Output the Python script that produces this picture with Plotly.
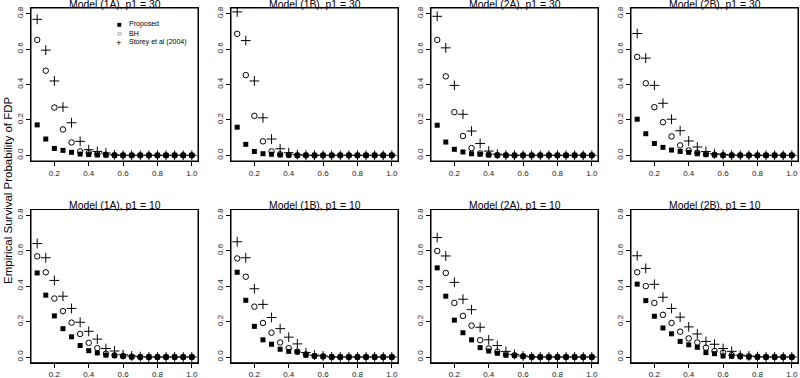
import plotly.graph_objects as go

# ---------------- data ----------------
alpha = [0.10, 0.15, 0.20, 0.25, 0.30, 0.35, 0.40, 0.45, 0.50, 0.55,
         0.60, 0.65, 0.70, 0.75, 0.80, 0.85, 0.90, 0.95, 1.00]

titles = ["Model (1A), p1 = 30", "Model (1B), p1 = 30", "Model (2A), p1 = 30", "Model (2B), p1 = 30",
          "Model (1A), p1 = 10", "Model (1B), p1 = 10", "Model (2A), p1 = 10", "Model (2B), p1 = 10"]

series_names = ["Proposed", "BH", "Storey et al (2004)"]

prop_1A_30 = [0.172, 0.092, 0.039, 0.028, 0.017, 0.007, 0.004, 0.002, 0.001, 0, 0, 0, 0, 0, 0, 0, 0, 0, 0]
bh_1A_30 = [0.652, 0.478, 0.270, 0.146, 0.073, 0.022, 0.013, 0.007, 0.004, 0.001, 0, 0, 0, 0, 0, 0, 0, 0, 0]
st_1A_30 = [0.768, 0.594, 0.420, 0.272, 0.184, 0.079, 0.032, 0.022, 0.013, 0.003, 0, 0, 0, 0, 0, 0, 0, 0, 0]

prop_1B_30 = [0.159, 0.062, 0.022, 0.009, 0.006, 0.002, 0.001, 0, 0, 0, 0, 0, 0, 0, 0, 0, 0, 0, 0]
bh_1B_30 = [0.686, 0.453, 0.223, 0.079, 0.022, 0.006, 0.002, 0, 0, 0, 0, 0, 0, 0, 0, 0, 0, 0, 0]
st_1B_30 = [0.810, 0.648, 0.420, 0.212, 0.092, 0.037, 0.015, 0.004, 0.001, 0, 0, 0, 0, 0, 0, 0, 0, 0, 0]

prop_2A_30 = [0.170, 0.075, 0.034, 0.019, 0.009, 0.006, 0.002, 0.001, 0, 0, 0, 0, 0, 0, 0, 0, 0, 0, 0]
bh_2A_30 = [0.652, 0.446, 0.244, 0.109, 0.041, 0.011, 0.004, 0.001, 0, 0, 0, 0, 0, 0, 0, 0, 0, 0, 0]
st_2A_30 = [0.785, 0.607, 0.395, 0.232, 0.137, 0.067, 0.024, 0.007, 0.002, 0, 0, 0, 0, 0, 0, 0, 0, 0, 0]

prop_2B_30 = [0.204, 0.122, 0.067, 0.045, 0.030, 0.022, 0.017, 0.009, 0.004, 0.002, 0, 0, 0, 0, 0, 0, 0, 0, 0]
bh_2B_30 = [0.556, 0.407, 0.272, 0.187, 0.107, 0.056, 0.028, 0.015, 0.007, 0.004, 0.001, 0, 0, 0, 0, 0, 0, 0, 0]
st_2B_30 = [0.688, 0.549, 0.395, 0.294, 0.204, 0.139, 0.081, 0.047, 0.022, 0.009, 0.004, 0.001, 0, 0, 0, 0, 0, 0, 0]

prop_1A_10 = [0.474, 0.349, 0.232, 0.160, 0.114, 0.065, 0.036, 0.023, 0.010, 0.008, 0.004, 0.001, 0, 0, 0, 0, 0, 0, 0]
bh_1A_10 = [0.568, 0.478, 0.330, 0.259, 0.194, 0.130, 0.080, 0.050, 0.019, 0.010, 0.006, 0.002, 0, 0, 0, 0, 0, 0, 0]
st_1A_10 = [0.640, 0.560, 0.432, 0.343, 0.274, 0.196, 0.145, 0.101, 0.048, 0.034, 0.013, 0.006, 0.002, 0, 0, 0, 0, 0, 0]

prop_1B_10 = [0.478, 0.320, 0.173, 0.097, 0.072, 0.044, 0.032, 0.029, 0.010, 0.006, 0.004, 0.001, 0, 0, 0, 0, 0, 0, 0]
bh_1B_10 = [0.556, 0.453, 0.284, 0.192, 0.137, 0.082, 0.050, 0.030, 0.015, 0.006, 0.003, 0, 0, 0, 0, 0, 0, 0, 0]
st_1B_10 = [0.650, 0.560, 0.385, 0.297, 0.223, 0.160, 0.112, 0.074, 0.025, 0.011, 0.006, 0.001, 0, 0, 0, 0, 0, 0, 0]

prop_2A_10 = [0.503, 0.343, 0.208, 0.137, 0.097, 0.053, 0.034, 0.021, 0.010, 0.008, 0.004, 0, 0, 0, 0, 0, 0, 0, 0]
bh_2A_10 = [0.598, 0.474, 0.305, 0.232, 0.177, 0.095, 0.048, 0.030, 0.015, 0.010, 0.004, 0.001, 0, 0, 0, 0, 0, 0, 0]
st_2A_10 = [0.674, 0.570, 0.421, 0.326, 0.267, 0.168, 0.097, 0.065, 0.032, 0.015, 0.006, 0.001, 0, 0, 0, 0, 0, 0, 0]

prop_2B_10 = [0.411, 0.318, 0.230, 0.164, 0.131, 0.088, 0.069, 0.055, 0.025, 0.019, 0.006, 0.004, 0.002, 0, 0, 0, 0, 0, 0]
bh_2B_10 = [0.478, 0.400, 0.305, 0.238, 0.192, 0.143, 0.105, 0.082, 0.053, 0.034, 0.025, 0.011, 0.006, 0.004, 0.001, 0, 0, 0, 0]
st_2B_10 = [0.571, 0.500, 0.410, 0.337, 0.274, 0.225, 0.170, 0.130, 0.088, 0.072, 0.048, 0.032, 0.010, 0.006, 0.002, 0, 0, 0, 0]

panels = [
    (prop_1A_30, bh_1A_30, st_1A_30), (prop_1B_30, bh_1B_30, st_1B_30),
    (prop_2A_30, bh_2A_30, st_2A_30), (prop_2B_30, bh_2B_30, st_2B_30),
    (prop_1A_10, bh_1A_10, st_1A_10), (prop_1B_10, bh_1B_10, st_1B_10),
    (prop_2A_10, bh_2A_10, st_2A_10), (prop_2B_10, bh_2B_10, st_2B_10),
]

# ---------------- layout ----------------
W, H = 800, 378
FONT = "Liberation Sans, Arial, Helvetica, sans-serif"

fig = go.Figure()

marker_styles = [
    dict(symbol="square", size=5, color="black", line=dict(width=0)),
    dict(symbol="circle-open", size=5.5, color="black", line=dict(width=1, color="black")),
    dict(symbol="cross-thin-open", size=7, color="black", line=dict(width=1, color="black")),
]

row_px = [(8, 161), (209.5, 362.7)]  # top, bottom in pixels

for i, (vals, title) in enumerate(zip(panels, titles)):
    r, c = divmod(i, 4)
    k = i + 1
    xa = "x" if k == 1 else f"x{k}"
    ya = "y" if k == 1 else f"y{k}"
    for s, (v, ms) in enumerate(zip(vals, marker_styles)):
        fig.add_trace(go.Scatter(x=alpha, y=v, mode="markers", marker=ms,
                                 name=series_names[s], showlegend=False,
                                 xaxis=xa, yaxis=ya, cliponaxis=False,
                                 hoverinfo="skip"))
    x0 = (200 * c + 31) / W
    x1 = (200 * c + 198) / W
    top, bot = row_px[r]
    y0 = (H - bot) / H
    y1 = (H - top) / H
    axcommon = dict(showgrid=False, zeroline=False, showline=True, mirror=True,
                    linecolor="black", linewidth=1, ticks="outside", ticklen=4,
                    tickwidth=1, tickcolor="black", automargin=False,
                    tickfont=dict(family=FONT, size=8, color="#222"),
                    tickformat=".1f")
    fig.layout[("xaxis" if k == 1 else f"xaxis{k}")] = dict(
        domain=[x0, x1], range=[0.064, 1.036], anchor=ya,
        tickvals=[0.2, 0.4, 0.6, 0.8, 1.0], **axcommon)
    fig.layout[("yaxis" if k == 1 else f"yaxis{k}")] = dict(
        domain=[y0, y1], range=[-0.032, 0.832], anchor=xa,
        tickvals=[0.0, 0.2, 0.4, 0.6, 0.8], tickangle=-90, **axcommon)
    fig.add_shape(type="rect", xref=f"{xa} domain", yref=f"{ya} domain",
                  x0=0, x1=1, y0=0, y1=1, line=dict(color="black", width=1),
                  fillcolor="rgba(0,0,0,0)", layer="above")
    fig.add_annotation(text=title, xref="paper", yref="paper",
                       x=(x0 + x1) / 2, y=y1, yanchor="bottom", xanchor="center",
                       yshift=-4, showarrow=False,
                       font=dict(family=FONT, size=10.4, color="black"))

# legend inside first panel
leg_rows = [("\u25A0", "Proposed", 24, 8), ("\u25CB", "BH", 33.3, 8), ("+", "Storey et al (2004)", 42, 9.5)]
for sym, txt, ypx, fs in leg_rows:
    fig.add_annotation(text=sym, xref="paper", yref="paper", x=119 / W, y=(H - ypx) / H,
                       xanchor="center", yanchor="middle", showarrow=False,
                       font=dict(family=FONT, size=fs, color="black"))
    fig.add_annotation(text=txt, xref="paper", yref="paper", x=127 / W, y=(H - ypx) / H,
                       xanchor="left", yanchor="middle", showarrow=False,
                       font=dict(family=FONT, size=7, color="black"))

fig.add_annotation(text="Empirical Survival Probability of FDP", xref="paper", yref="paper",
                   x=8 / W, y=(H - 190) / H, textangle=-90, xanchor="center", yanchor="middle",
                   showarrow=False, font=dict(family=FONT, size=11.5, color="black"))

fig.update_layout(width=W, height=H, margin=dict(l=0, r=0, t=0, b=0, autoexpand=False),
                  paper_bgcolor="white", plot_bgcolor="white", showlegend=False,
                  hovermode=False)

fig.write_html("out.html", config={"displayModeBar": False},
               post_script="document.body.style.margin='0';")
